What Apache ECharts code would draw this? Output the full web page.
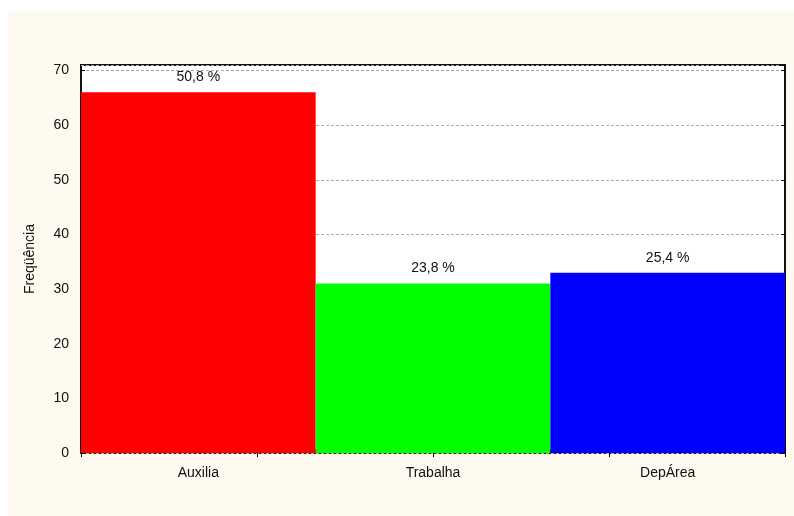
<!DOCTYPE html>
<html>
<head>
<meta charset="utf-8">
<script src="https://cdn.jsdelivr.net/npm/echarts@6/dist/echarts.min.js"></script>
<style>
  html, body { margin: 0; padding: 0; background: #ffffff; }
  #chart { position: absolute; left: 8px; top: 12px; width: 786px; height: 504px; }
</style>
</head>
<body>
<div id="chart"></div>
<script>
// categorias e frequências
var categories = ["Auxilia", "Trabalha", "DepÁrea"];
var frequencies = [66, 31, 33];
var pctLabels = ["50,8 %", "23,8 %", "25,4 %"];
var barColors = ["#ff0000", "#00ff00", "#0000ff"];
var yTicks = [0, 10, 20, 30, 40, 50, 60, 70];

var font = "Liberation Sans, Arial, sans-serif";
var chart = echarts.init(document.getElementById("chart"));

var option = {
  backgroundColor: "#fffaf0",
  animation: false,
  grid: {
    left: 73,
    right: 9,
    top: 53,
    bottom: 63,
    show: true,
    backgroundColor: "#ffffff",
    borderColor: "#111111",
    borderWidth: 2
  },
  xAxis: [
    {
      type: "category",
      data: categories,
      position: "bottom",
      axisLine: { show: false },
      axisTick: { show: true, inside: true, length: 4, lineStyle: { color: "#000" } },
      axisLabel: { color: "#111", fontFamily: font, fontSize: 14, margin: 13 },
      splitLine: { show: false }
    },
    {
      // eixo de cima só com marcas
      type: "value",
      position: "top",
      min: 0,
      max: 4,
      interval: 1,
      axisLine: { show: false },
      axisTick: { show: true, inside: true, length: 4, lineStyle: { color: "#000" } },
      axisLabel: { show: false },
      splitLine: { show: false }
    }
  ],
  yAxis: [
    {
      type: "value",
      min: yTicks[0],
      max: 71,
      interval: 10,
      name: "Freqüência",
      nameLocation: "middle",
      nameGap: 44,
      nameTextStyle: { color: "#111", fontFamily: font, fontSize: 14 },
      axisLine: { show: false },
      axisTick: { show: true, inside: true, length: 4, lineStyle: { color: "#000" } },
      axisLabel: { color: "#111", fontFamily: font, fontSize: 14, margin: 12, showMaxLabel: false },
      splitLine: { show: true, lineStyle: { color: "#aaaaaa", type: [3, 2], width: 1 } }
    },
    {
      type: "value",
      position: "right",
      min: 0,
      max: 71,
      interval: 10,
      axisLine: { show: false },
      axisTick: { show: true, inside: true, length: 4, lineStyle: { color: "#000" } },
      axisLabel: { show: false },
      splitLine: { show: false }
    }
  ],
  series: [
    {
      type: "bar",
      xAxisIndex: 0,
      yAxisIndex: 0,
      barWidth: "100%",
      barCategoryGap: 0,
      data: frequencies.map(function (v, i) {
        return { value: v, itemStyle: { color: barColors[i] } };
      }),
      label: {
        show: true,
        position: "top",
        distance: 8,
        color: "#111",
        fontFamily: font,
        fontSize: 14,
        formatter: function (p) { return pctLabels[p.dataIndex]; }
      }
    }
  ]
};

chart.setOption(option);
</script>
</body>
</html>
